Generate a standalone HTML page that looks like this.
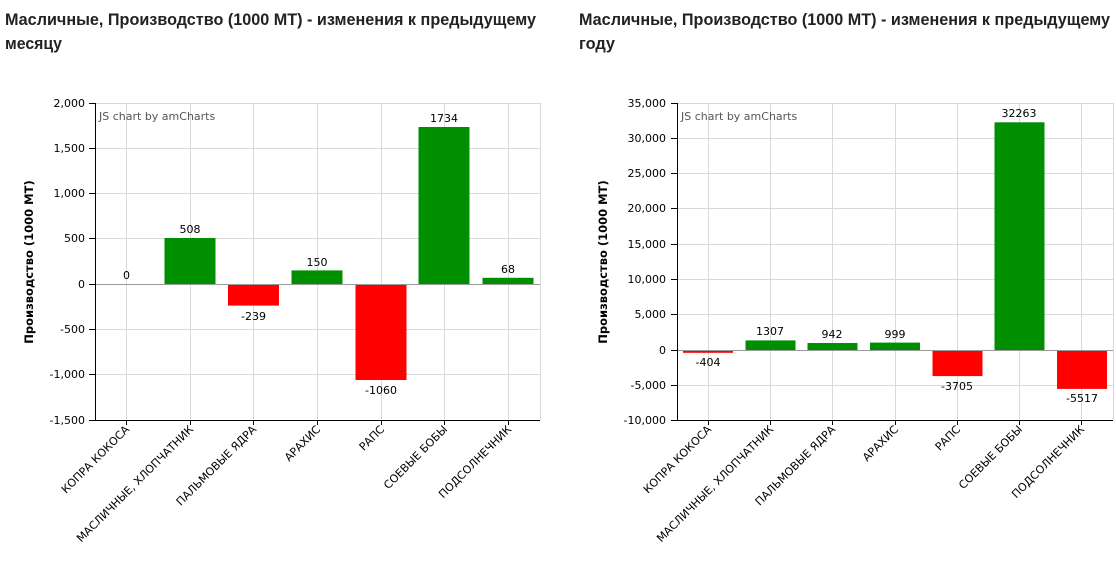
<!DOCTYPE html>
<html><head><meta charset="utf-8"><style>
html,body{margin:0;padding:0;background:#fff;width:1116px;height:561px;overflow:hidden}
svg{position:absolute;left:0;top:0;font-family:"DejaVu Sans","Liberation Sans",sans-serif}
.t{font-family:"Liberation Sans",sans-serif;font-size:16.5px;font-weight:bold;fill:#222}
.tk{font-size:11px;fill:#000}
.g{stroke:#d9d9d9;stroke-width:1}
.ax{stroke:#000;stroke-width:1}
.v{font-size:11px;fill:#000;text-anchor:middle}
.c{font-size:11px;fill:#000;text-anchor:end}
.yl{font-size:11.5px;font-weight:bold;fill:#000;text-anchor:middle}
.wm{font-size:11px;fill:#555}
</style></head><body>
<svg width="1116" height="561" xmlns="http://www.w3.org/2000/svg">
<text class="t" x="5" y="25" textLength="531" lengthAdjust="spacingAndGlyphs">Масличные, Производство (1000 MT) - изменения к предыдущему</text>
<text class="t" x="5" y="49" textLength="57" lengthAdjust="spacingAndGlyphs">месяцу</text>
<text class="t" x="579" y="25" textLength="531" lengthAdjust="spacingAndGlyphs">Масличные, Производство (1000 MT) - изменения к предыдущему</text>
<text class="t" x="579" y="49" textLength="36" lengthAdjust="spacingAndGlyphs">году</text>

<!-- LEFT CHART -->
<g>
<g class="g">
<line x1="95" y1="103.5" x2="540" y2="103.5"/><line x1="95" y1="148.5" x2="540" y2="148.5"/>
<line x1="95" y1="193.5" x2="540" y2="193.5"/><line x1="95" y1="238.5" x2="540" y2="238.5"/>
<line x1="95" y1="329.5" x2="540" y2="329.5"/><line x1="95" y1="374.5" x2="540" y2="374.5"/>
<line x1="126.5" y1="103" x2="126.5" y2="420"/><line x1="190.5" y1="103" x2="190.5" y2="420"/>
<line x1="253.5" y1="103" x2="253.5" y2="420"/><line x1="317.5" y1="103" x2="317.5" y2="420"/>
<line x1="381.5" y1="103" x2="381.5" y2="420"/><line x1="444.5" y1="103" x2="444.5" y2="420"/>
<line x1="508.5" y1="103" x2="508.5" y2="420"/><line x1="540.5" y1="103" x2="540.5" y2="420"/>
</g>
<rect x="164.5" y="238" width="51" height="46" fill="#008f00"/>
<rect x="228" y="284" width="51" height="21.6" fill="#ff0000"/>
<rect x="291.5" y="270.4" width="51" height="13.6" fill="#008f00"/>
<rect x="355.5" y="284" width="51" height="96" fill="#ff0000"/>
<rect x="418.5" y="127" width="51" height="157" fill="#008f00"/>
<rect x="482.5" y="277.8" width="51" height="6.2" fill="#008f00"/>
<line x1="95" y1="284.5" x2="540" y2="284.5" stroke="#999"/>
<line class="ax" x1="95.5" y1="103" x2="95.5" y2="420"/>
<line class="ax" x1="95" y1="420.5" x2="540" y2="420.5"/>
<g class="ax">
<line x1="89" y1="103.5" x2="95" y2="103.5"/><line x1="89" y1="148.5" x2="95" y2="148.5"/>
<line x1="89" y1="193.5" x2="95" y2="193.5"/><line x1="89" y1="238.5" x2="95" y2="238.5"/>
<line x1="89" y1="284.5" x2="95" y2="284.5"/><line x1="89" y1="329.5" x2="95" y2="329.5"/>
<line x1="89" y1="374.5" x2="95" y2="374.5"/><line x1="89" y1="420.5" x2="95" y2="420.5"/>
<line x1="126.5" y1="420" x2="126.5" y2="425"/><line x1="190.5" y1="420" x2="190.5" y2="425"/>
<line x1="253.5" y1="420" x2="253.5" y2="425"/><line x1="317.5" y1="420" x2="317.5" y2="425"/>
<line x1="381.5" y1="420" x2="381.5" y2="425"/><line x1="444.5" y1="420" x2="444.5" y2="425"/>
<line x1="508.5" y1="420" x2="508.5" y2="425"/>
</g>
<g class="tk" text-anchor="end">
<text x="85" y="107">2,000</text><text x="85" y="152">1,500</text><text x="85" y="197">1,000</text>
<text x="85" y="242">500</text><text x="85" y="288">0</text><text x="85" y="333">-500</text>
<text x="85" y="378">-1,000</text><text x="85" y="424">-1,500</text>
</g>
<text class="wm" x="99" y="120">JS chart by amCharts</text>
<text class="v" x="126.5" y="279">0</text>
<text class="v" x="190" y="233">508</text>
<text class="v" x="253.5" y="320">-239</text>
<text class="v" x="317" y="266">150</text>
<text class="v" x="381" y="394">-1060</text>
<text class="v" x="444" y="122">1734</text>
<text class="v" x="508" y="273">68</text>
<text class="yl" transform="translate(33,262) rotate(-90)">Производство (1000 MT)</text>
<g class="c">
<text transform="translate(130,430) rotate(-45)">КОПРА КОКОСА</text>
<text transform="translate(194,430) rotate(-45)">МАСЛИЧНЫЕ, ХЛОПЧАТНИК</text>
<text transform="translate(257,430) rotate(-45)">ПАЛЬМОВЫЕ ЯДРА</text>
<text transform="translate(321,430) rotate(-45)">АРАХИС</text>
<text transform="translate(385,430) rotate(-45)">РАПС</text>
<text transform="translate(448,430) rotate(-45)">СОЕВЫЕ БОБЫ</text>
<text transform="translate(512,430) rotate(-45)">ПОДСОЛНЕЧНИК</text>
</g>
</g>

<!-- RIGHT CHART -->
<g>
<g class="g">
<line x1="677" y1="103.5" x2="1113" y2="103.5"/><line x1="677" y1="138.5" x2="1113" y2="138.5"/>
<line x1="677" y1="173.5" x2="1113" y2="173.5"/><line x1="677" y1="208.5" x2="1113" y2="208.5"/>
<line x1="677" y1="244.5" x2="1113" y2="244.5"/><line x1="677" y1="279.5" x2="1113" y2="279.5"/>
<line x1="677" y1="314.5" x2="1113" y2="314.5"/><line x1="677" y1="385.5" x2="1113" y2="385.5"/>
<line x1="708.5" y1="103" x2="708.5" y2="420"/><line x1="770.5" y1="103" x2="770.5" y2="420"/>
<line x1="832.5" y1="103" x2="832.5" y2="420"/><line x1="895.5" y1="103" x2="895.5" y2="420"/>
<line x1="957.5" y1="103" x2="957.5" y2="420"/><line x1="1019.5" y1="103" x2="1019.5" y2="420"/>
<line x1="1081.5" y1="103" x2="1081.5" y2="420"/><line x1="1113.5" y1="103" x2="1113.5" y2="420"/>
</g>
<rect x="683" y="350" width="50" height="2.8" fill="#ff0000"/>
<rect x="745.5" y="340.4" width="50" height="9.6" fill="#008f00"/>
<rect x="807.5" y="343" width="50" height="7" fill="#008f00"/>
<rect x="870" y="342.6" width="50" height="7.4" fill="#008f00"/>
<rect x="932.5" y="350" width="50" height="26.1" fill="#ff0000"/>
<rect x="994.5" y="122.3" width="50" height="227.7" fill="#008f00"/>
<rect x="1057" y="350" width="50" height="38.9" fill="#ff0000"/>
<line x1="677" y1="350.5" x2="1113" y2="350.5" stroke="#999"/>
<line class="ax" x1="677.5" y1="103" x2="677.5" y2="420"/>
<line class="ax" x1="677" y1="420.5" x2="1113" y2="420.5"/>
<g class="ax">
<line x1="671" y1="103.5" x2="677" y2="103.5"/><line x1="671" y1="138.5" x2="677" y2="138.5"/>
<line x1="671" y1="173.5" x2="677" y2="173.5"/><line x1="671" y1="208.5" x2="677" y2="208.5"/>
<line x1="671" y1="244.5" x2="677" y2="244.5"/><line x1="671" y1="279.5" x2="677" y2="279.5"/>
<line x1="671" y1="314.5" x2="677" y2="314.5"/><line x1="671" y1="350.5" x2="677" y2="350.5"/>
<line x1="671" y1="385.5" x2="677" y2="385.5"/><line x1="671" y1="420.5" x2="677" y2="420.5"/>
<line x1="708.5" y1="420" x2="708.5" y2="425"/><line x1="770.5" y1="420" x2="770.5" y2="425"/>
<line x1="832.5" y1="420" x2="832.5" y2="425"/><line x1="895.5" y1="420" x2="895.5" y2="425"/>
<line x1="957.5" y1="420" x2="957.5" y2="425"/><line x1="1019.5" y1="420" x2="1019.5" y2="425"/>
<line x1="1081.5" y1="420" x2="1081.5" y2="425"/>
</g>
<g class="tk" text-anchor="end">
<text x="666" y="107">35,000</text><text x="666" y="142">30,000</text><text x="666" y="177">25,000</text>
<text x="666" y="212">20,000</text><text x="666" y="248">15,000</text><text x="666" y="283">10,000</text>
<text x="666" y="318">5,000</text><text x="666" y="354">0</text><text x="666" y="389">-5,000</text>
<text x="666" y="424">-10,000</text>
</g>
<text class="wm" x="681" y="120">JS chart by amCharts</text>
<text class="v" x="708" y="366">-404</text>
<text class="v" x="770" y="335">1307</text>
<text class="v" x="832" y="338">942</text>
<text class="v" x="895" y="338">999</text>
<text class="v" x="957" y="390">-3705</text>
<text class="v" x="1019" y="117">32263</text>
<text class="v" x="1082" y="402">-5517</text>
<text class="yl" transform="translate(607,262) rotate(-90)">Производство (1000 MT)</text>
<g class="c">
<text transform="translate(712,430) rotate(-45)">КОПРА КОКОСА</text>
<text transform="translate(774,430) rotate(-45)">МАСЛИЧНЫЕ, ХЛОПЧАТНИК</text>
<text transform="translate(836,430) rotate(-45)">ПАЛЬМОВЫЕ ЯДРА</text>
<text transform="translate(899,430) rotate(-45)">АРАХИС</text>
<text transform="translate(961,430) rotate(-45)">РАПС</text>
<text transform="translate(1023,430) rotate(-45)">СОЕВЫЕ БОБЫ</text>
<text transform="translate(1085,430) rotate(-45)">ПОДСОЛНЕЧНИК</text>
</g>
</g>
</svg>
</body></html>
